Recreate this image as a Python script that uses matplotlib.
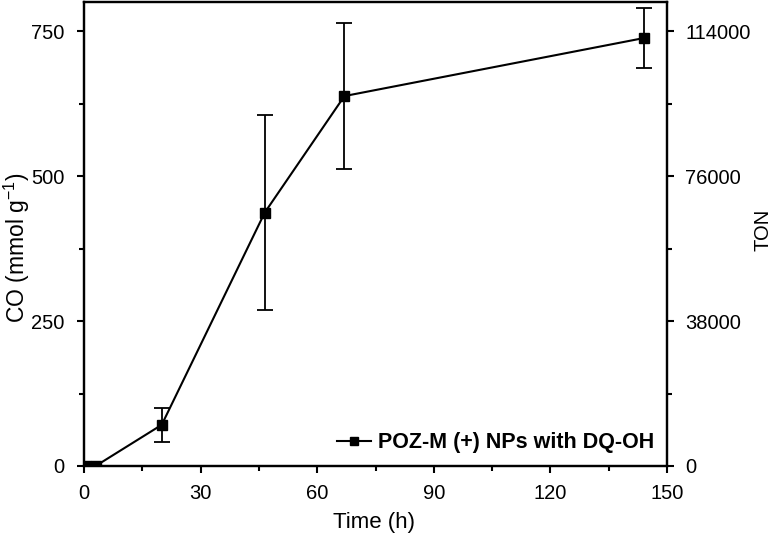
import matplotlib
matplotlib.use("Agg")
import matplotlib.pyplot as plt
from matplotlib.ticker import AutoMinorLocator
from matplotlib.lines import Line2D

plt.rcParams['font.family'] = ['Liberation Sans', 'DejaVu Sans']
plt.rcParams['mathtext.fontset'] = 'custom'
plt.rcParams['mathtext.rm'] = 'Liberation Sans'
plt.rcParams['mathtext.it'] = 'Liberation Sans:italic'
plt.rcParams['mathtext.bf'] = 'Liberation Sans:bold'

time_h = [0.5, 3, 20, 46.5, 67, 144]
co = [0, 0, 71, 437, 638, 738]
co_err = [0, 0, 29, 168, 126, 52]
label = "POZ-M (+) NPs with DQ-OH"
left_ticks = [0, 250, 500, 750]
right_ticks = [0, 38000, 76000, 114000]

fig = plt.figure(figsize=(7.74, 5.35), dpi=100)
ax = fig.add_axes([0.1085, 0.129, 0.7533, 0.867])
ax.errorbar(time_h, co, yerr=co_err, color='black', marker='s', markersize=7,
            linewidth=1.5, elinewidth=1.3, capsize=6, capthick=1.3)
ax.set_xlim(0, 150)
ax.set_ylim(0, 800)
ax.set_xticks([0, 30, 60, 90, 120, 150])
ax.set_yticks(left_ticks)
ax.xaxis.set_minor_locator(AutoMinorLocator(2))
ax.yaxis.set_minor_locator(AutoMinorLocator(2))
ax.set_xlabel("Time (h)", fontsize=16)
ax.xaxis.set_label_coords(0.497, -0.1)
ax.set_ylabel("CO (mmol g$^{\\mathregular{-1}}$)", fontsize=16.5)
ax.yaxis.set_label_coords(-0.09, 0.47)
for s in ax.spines.values():
    s.set_linewidth(1.6)
ax.tick_params(which='major', direction='out', length=5, width=1.5, labelsize=14.5, top=False, right=False)
ax.tick_params(axis='x', which='major', pad=8)
ax.tick_params(axis='y', which='major', pad=9)
ax.tick_params(which='minor', direction='out', length=3.5, width=1.5, top=False, right=False)

ax2 = ax.twinx()
ax2.set_ylim(0, 800 * 152)
ax2.set_yticks(right_ticks)
ax2.yaxis.set_minor_locator(AutoMinorLocator(2))
ax2.set_ylabel("TON", fontsize=14.5)
ax2.yaxis.set_label_coords(1.149, 0.51)
ax2.tick_params(which='major', direction='out', length=5, width=1.5, labelsize=14.5, pad=8)
ax2.tick_params(which='minor', direction='out', length=3.5, width=1.5)
for s in ax2.spines.values():
    s.set_linewidth(1.6)

handle = Line2D([], [], color='black', marker='s', markersize=5.5, linewidth=1.5)
ax.legend([handle], [label], loc='lower right', frameon=False,
          prop={'weight': 'bold', 'size': 15.5}, handlelength=1.6, handletextpad=0.3,
          borderaxespad=0.2)
fig.savefig("out.png", dpi=100)
